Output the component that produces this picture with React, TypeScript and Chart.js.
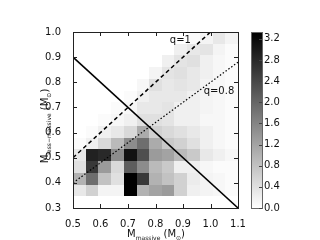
import React, { useEffect, useRef } from "react";
import { Chart, registerables } from "chart.js";

Chart.register(...registerables);

// Bin edges of the 2D histogram (13 x-bins, 15 y-bins)
const xEdges = [0.5, 0.546, 0.592, 0.638, 0.685, 0.731, 0.777, 0.823, 0.869, 0.915, 0.962, 1.008, 1.054, 1.1];
const yEdges = [0.3, 0.347, 0.393, 0.44, 0.487, 0.533, 0.58, 0.627, 0.673, 0.72, 0.767, 0.813, 0.86, 0.907, 0.953, 1.0];

// Density rows, bottom (y 0.300-0.347) to top (y 0.953-1.000)
const row00 = [0, 0, 0, 0, 0, 0, 0, 0, 0, 0, 0, 0, 0];
const row01 = [0.3, 0.6, 0.15, 0.15, 3.33, 1.0, 1.2, 1.3, 0.6, 0.2, 0.15, 0.1, 0.05];
const row02 = [1.0, 1.9, 0.8, 0.4, 3.33, 2.6, 1.0, 0.8, 0.6, 0.25, 0.15, 0.1, 0.05];
const row03 = [0.4, 2.6, 1.3, 0.5, 2.1, 1.5, 0.9, 0.7, 0.2, 0.2, 0.1, 0.05, 0.05];
const row04 = [0.3, 2.9, 2.8, 1.5, 3.1, 2.3, 1.3, 1.2, 0.9, 0.7, 0.3, 0.2, 0.1];
const row05 = [0.05, 0.2, 0.5, 0.9, 1.5, 1.9, 1.1, 0.7, 0.6, 0.4, 0.2, 0.1, 0.05];
const row06 = [0, 0.05, 0.2, 0.3, 0.5, 1.1, 0.6, 0.5, 0.4, 0.3, 0.2, 0.1, 0.05];
const row07 = [0, 0, 0.05, 0.1, 0.2, 0.4, 0.4, 0.35, 0.2, 0.2, 0.1, 0.1, 0.05];
const row08 = [0, 0, 0, 0.05, 0.1, 0.3, 0.3, 0.35, 0.2, 0.2, 0.15, 0.1, 0.05];
const row09 = [0, 0, 0, 0, 0.05, 0.2, 0.3, 0.3, 0.3, 0.2, 0.15, 0.1, 0.05];
const row10 = [0, 0, 0, 0, 0, 0.1, 0.4, 0.3, 0.35, 0.3, 0.15, 0.1, 0.05];
const row11 = [0, 0, 0, 0, 0, 0, 0.15, 0.35, 0.4, 0.3, 0.2, 0.1, 0.05];
const row12 = [0, 0, 0, 0, 0, 0, 0, 0.2, 0.35, 0.4, 0.2, 0.1, 0.05];
const row13 = [0, 0, 0, 0, 0, 0, 0, 0, 0.2, 0.3, 0.35, 0.15, 0.05];
const row14 = [0, 0, 0, 0, 0, 0, 0, 0, 0, 0.05, 0.15, 0.3, 0.15];
const densityRows = [row00, row01, row02, row03, row04, row05, row06, row07, row08, row09, row10, row11, row12, row13, row14];

const colorMax = 3.33;

// Reference lines
const totalMassLine = [{ x: 0.5, y: 0.9 }, { x: 1.1, y: 0.3 }];
const q1Line = [{ x: 0.5, y: 0.5 }, { x: 1.0, y: 1.0 }];
const q08Line = [{ x: 0.5, y: 0.4 }, { x: 1.1, y: 0.88 }];

const lineLabels = [
  { text: "q=1", x: 0.852, y: 0.968 },
  { text: "q=0.8", x: 0.975, y: 0.763 },
];

const FONT = "'DejaVu Sans', 'Liberation Sans', sans-serif";

type Part = { t: string; sub?: boolean };
const xTitle: Part[] = [{ t: "M" }, { t: "massive", sub: true }, { t: " (M" }, { t: "\u2299", sub: true }, { t: ")" }];
const yTitle: Part[] = [{ t: "M" }, { t: "less\u2212massive", sub: true }, { t: " (M" }, { t: "\u2299", sub: true }, { t: ")" }];

function drawParts(ctx: CanvasRenderingContext2D, parts: Part[], cx: number, baseY: number) {
  const mainFont = `10px ${FONT}`;
  const subFont = `6px ${FONT}`;
  let total = 0;
  const widths = parts.map((p) => {
    ctx.font = p.sub ? subFont : mainFont;
    const w = ctx.measureText(p.t).width;
    total += w;
    return w;
  });
  let x = cx - total / 2;
  ctx.textAlign = "left";
  ctx.textBaseline = "alphabetic";
  parts.forEach((p, i) => {
    ctx.font = p.sub ? subFont : mainFont;
    ctx.fillText(p.t, x, p.sub ? baseY + 2.5 : baseY);
    x += widths[i];
  });
}

const heatPlugin = {
  id: "heat",
  beforeDatasetsDraw(chart: any) {
    const { ctx } = chart;
    const xs = chart.scales.x;
    const ys = chart.scales.y;
    ctx.save();
    densityRows.forEach((row, j) => {
      row.forEach((v, i) => {
        if (v <= 0) return;
        const t = Math.min(1, v / colorMax);
        const g = Math.round(255 * (1 - t));
        ctx.fillStyle = `rgb(${g},${g},${g})`;
        const x0 = Math.round(xs.getPixelForValue(xEdges[i]));
        const x1 = Math.round(xs.getPixelForValue(xEdges[i + 1]));
        const y0 = Math.round(ys.getPixelForValue(yEdges[j + 1]));
        const y1 = Math.round(ys.getPixelForValue(yEdges[j]));
        ctx.fillRect(x0, y0, x1 - x0, y1 - y0);
      });
    });
    ctx.restore();
  },
  afterDatasetsDraw(chart: any) {
    const { ctx, chartArea } = chart;
    const xs = chart.scales.x;
    const ys = chart.scales.y;
    const cb = chart.scales.cb;
    const { left, right, top, bottom } = chartArea;
    ctx.save();
    // frame
    ctx.strokeStyle = "#222";
    ctx.lineWidth = 1;
    ctx.strokeRect(Math.round(left) + 0.5, Math.round(top) + 0.5, Math.round(right - left), Math.round(bottom - top));
    // inward ticks
    ctx.beginPath();
    xs.ticks.forEach((tk: any) => {
      const px = Math.round(xs.getPixelForValue(tk.value)) + 0.5;
      ctx.moveTo(px, bottom);
      ctx.lineTo(px, bottom - 4);
      ctx.moveTo(px, top);
      ctx.lineTo(px, top + 4);
    });
    ys.ticks.forEach((tk: any) => {
      const py = Math.round(ys.getPixelForValue(tk.value)) + 0.5;
      ctx.moveTo(left, py);
      ctx.lineTo(left + 4, py);
      ctx.moveTo(right, py);
      ctx.lineTo(right - 4, py);
    });
    ctx.stroke();

    // line labels
    ctx.fillStyle = "#111";
    ctx.font = `10px ${FONT}`;
    ctx.textAlign = "left";
    ctx.textBaseline = "middle";
    lineLabels.forEach((l) => {
      ctx.fillText(l.text, xs.getPixelForValue(l.x), ys.getPixelForValue(l.y));
    });

    // colorbar
    const cbL = 251;
    const cbR = 262;
    const cbTop = cb.getPixelForValue(colorMax);
    const cbBot = cb.getPixelForValue(0);
    const grad = ctx.createLinearGradient(0, cbBot, 0, cbTop);
    grad.addColorStop(0, "rgb(255,255,255)");
    grad.addColorStop(1, "rgb(0,0,0)");
    ctx.fillStyle = grad;
    ctx.fillRect(cbL, cbTop, cbR - cbL, cbBot - cbTop);
    ctx.strokeStyle = "#666";
    ctx.strokeRect(cbL + 0.5, Math.round(cbTop) + 0.5, cbR - cbL, Math.round(cbBot - cbTop));
    ctx.strokeStyle = "#444";
    ctx.beginPath();
    cb.ticks.forEach((tk: any) => {
      const py = Math.round(cb.getPixelForValue(tk.value)) + 0.5;
      ctx.moveTo(cbR, py);
      ctx.lineTo(cbR - 3, py);
    });
    ctx.stroke();

    // axis titles
    ctx.fillStyle = "#111";
    drawParts(ctx, xTitle, 156, 237);
    ctx.save();
    ctx.translate(48, 126);
    ctx.rotate(-Math.PI / 2);
    drawParts(ctx, yTitle, 0, 0);
    ctx.restore();
    ctx.restore();
  },
};

export default function App() {
  const ref = useRef<HTMLCanvasElement>(null);
  useEffect(() => {
    document.body.style.margin = "0";
    const canvas = ref.current;
    if (!canvas) return;
    const tickFont = { family: FONT, size: 10 };
    const chart = new Chart(canvas, {
      type: "scatter",
      data: {
        datasets: [
          {
            data: totalMassLine,
            showLine: true,
            borderColor: "#000",
            borderWidth: 1.5,
            pointRadius: 0,
          },
          {
            data: q1Line,
            showLine: true,
            borderColor: "#000",
            borderWidth: 1.5,
            borderDash: [4, 3],
            pointRadius: 0,
          },
          {
            data: q08Line,
            showLine: true,
            borderColor: "#000",
            borderWidth: 1.2,
            borderDash: [1.5, 2],
            pointRadius: 0,
          },
        ],
      },
      options: {
        animation: false,
        responsive: false,
        events: [],
        layout: { padding: { top: 24, left: 0, right: 0, bottom: 0 } },
        plugins: { legend: { display: false }, tooltip: { enabled: false } },
        scales: {
          x: {
            type: "linear",
            min: 0.5,
            max: 1.1,
            grid: { display: false },
            border: { display: false },
            ticks: {
              stepSize: 0.1,
              padding: 2,
              color: "#111",
              font: tickFont,
              maxRotation: 0,
              callback: (v: any) => Number(v).toFixed(1),
            },
            afterFit: (s: any) => {
              s.height = 24;
            },
          },
          y: {
            type: "linear",
            min: 0.3,
            max: 1.0,
            grid: { display: false },
            border: { display: false },
            ticks: {
              stepSize: 0.1,
              padding: 4,
              color: "#111",
              font: tickFont,
              callback: (v: any) => Number(v).toFixed(1),
            },
            afterFit: (s: any) => {
              s.width = 73;
            },
          },
          cb: {
            type: "linear",
            position: "right",
            min: 0,
            max: colorMax,
            grid: { display: false, drawTicks: false },
            border: { display: false },
            ticks: {
              stepSize: 0.4,
              includeBounds: false,
              padding: 26,
              color: "#111",
              font: tickFont,
              callback: (v: any) => Number(v).toFixed(1),
            },
            afterFit: (s: any) => {
              s.width = 82;
            },
          },
        },
      },
      plugins: [heatPlugin],
    } as any);
    return () => chart.destroy();
  }, []);
  return <canvas ref={ref} width={320} height={240} style={{ display: "block" }} />;
}
